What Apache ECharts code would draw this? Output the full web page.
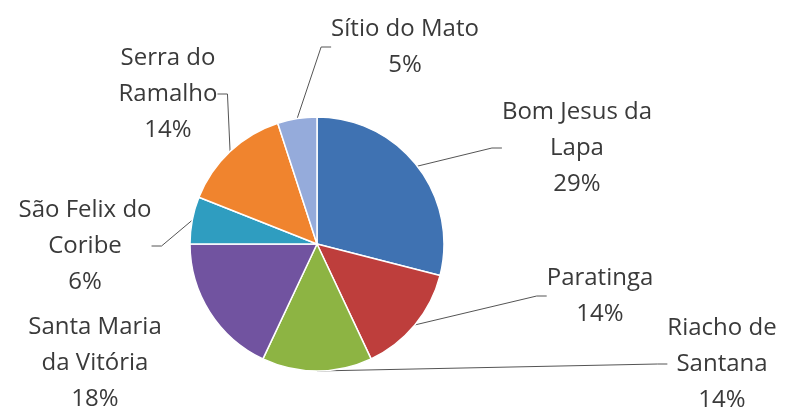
<!DOCTYPE html>
<html>
<head>
<meta charset="utf-8">
<script src="https://cdn.jsdelivr.net/npm/echarts@6/dist/echarts.min.js"></script>
<style>
html,body{margin:0;padding:0;background:#fff;}
#c{width:787px;height:410px;}
</style>
</head>
<body>
<div id="c"></div>
<script>
// Data
const categories = ['Bom Jesus da Lapa','Paratinga','Riacho de Santana','Santa Maria da Vitória','São Felix do Coribe','Serra do Ramalho','Sítio do Mato'];
const wrappedNames = ['Bom Jesus da\nLapa','Paratinga','Riacho de\nSantana','Santa Maria\nda Vitória','São Felix do\nCoribe','Serra do\nRamalho','Sítio do Mato'];
const values = [29, 14, 14, 18, 6, 14, 5];

// Styling / layout (not data)
const colors = ['#3F72B2','#BE3E3C','#8DB443','#7153A0','#2F9DC0','#F0842E','#95ABDB'];
const labelCenters = [[577,148],[600,296],[722,364],[95,363],[85,246],[168,94],[405,47]];
const showLines = [true, true, true, false, true, true, true];

const chart = echarts.init(document.getElementById('c'));
chart.setOption({
  backgroundColor: '#fff',
  animation: false,
  color: colors,
  series: [{
    type: 'pie',
    center: [317, 244],
    radius: 127,
    startAngle: 90,
    clockwise: true,
    percentPrecision: 0,
    itemStyle: { borderColor: '#fff', borderWidth: 1.5 },
    label: {
      show: true,
      position: 'outside',
      formatter: p => wrappedNames[p.dataIndex] + '\n' + p.percent + '%',
      fontFamily: 'Open Sans',
      fontSize: 24,
      lineHeight: 36,
      color: '#3a3a3a',
      align: 'center'
    },
    labelLine: { show: true, lineStyle: { color: '#555', width: 1 }, length: 10, length2: 10 },
    labelLayout: function (params) {
      const c = labelCenters[params.dataIndex];
      return { x: c[0], y: c[1], align: 'center', verticalAlign: 'middle', hideOverlap: false };
    },
    data: categories.map((n, i) => ({ name: n, value: values[i], labelLine: { show: showLines[i] } }))
  }]
});
</script>
</body>
</html>
